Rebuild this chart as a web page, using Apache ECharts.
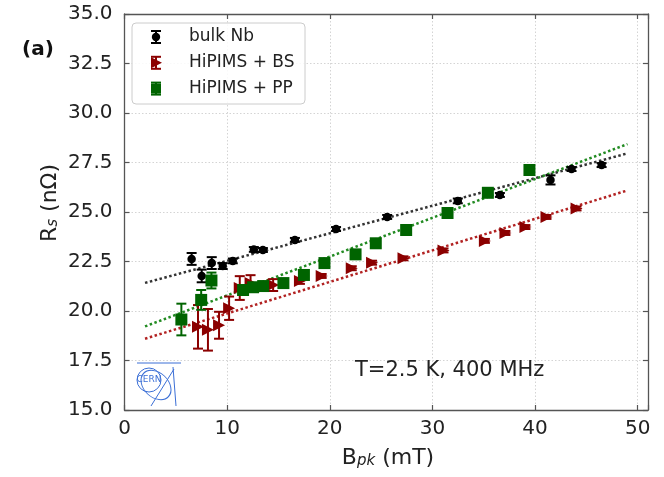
<!DOCTYPE html>
<html>
<head>
<meta charset="utf-8">
<script src="https://cdn.jsdelivr.net/npm/echarts@6.0.0/dist/echarts.min.js"></script>
<style>
  html, body { margin: 0; padding: 0; background: #fff; }
  #chart { width: 664px; height: 477px; }
</style>
</head>
<body>
<div id="chart"></div>
<script>
// Surface resistance vs peak magnetic field, T = 2.5 K, 400 MHz

// bulk Nb
const nbB   = [6.54, 7.52, 8.50, 9.57, 10.55, 12.60, 13.48, 16.60, 20.61, 25.59, 32.47, 36.57, 41.50, 43.55, 46.48];
const nbRs  = [22.63, 21.77, 22.42, 22.27, 22.53, 23.11, 23.08, 23.59, 24.14, 24.75, 25.56, 25.86, 26.62, 27.17, 27.37];
const nbErr = [0.30, 0.32, 0.30, 0.15, 0.12, 0.12, 0.10, 0.10, 0.10, 0.10, 0.12, 0.10, 0.23, 0.10, 0.10];

// HiPIMS + BS
const bsB   = [7.16, 8.13, 9.21, 10.19, 11.23, 12.28, 14.48, 17.09, 19.21, 22.14, 24.12, 27.18, 31.08, 35.11, 37.11, 39.06, 41.11, 44.04];
const bsRs  = [19.20, 19.05, 19.28, 20.14, 21.16, 21.41, 21.31, 21.52, 21.77, 22.16, 22.44, 22.66, 23.06, 23.54, 23.94, 24.24, 24.75, 25.18];
const bsErr = [1.10, 1.05, 0.68, 0.59, 0.60, 0.40, 0.30, 0.15, 0.10, 0.10, 0.10, 0.10, 0.10, 0.10, 0.10, 0.10, 0.10, 0.10];

// HiPIMS + PP
const ppB   = [5.54, 7.47, 8.47, 11.55, 12.53, 13.51, 15.48, 17.48, 19.48, 22.51, 24.48, 27.44, 31.47, 35.40, 39.45];
const ppRs  = [19.57, 20.56, 21.54, 21.06, 21.20, 21.26, 21.41, 21.82, 22.42, 22.86, 23.42, 24.09, 24.95, 25.97, 27.12];
const ppErr = [0.80, 0.50, 0.40, 0.10, 0.10, 0.10, 0.10, 0.10, 0.10, 0.10, 0.10, 0.10, 0.10, 0.10, 0.10];

// linear fits (end points)
const nbFitB = [2, 49], nbFitRs = [21.42, 27.96];
const bsFitB = [2, 49], bsFitRs = [18.60, 26.09];
const ppFitB = [2, 49], ppFitRs = [19.22, 28.43];

// axes
const xTicks = [0, 10, 20, 30, 40, 50];
const yTicks = [15.0, 17.5, 20.0, 22.5, 25.0, 27.5, 30.0, 32.5, 35.0];

const FONT = 'DejaVu Sans';
const C_NB = '#000000', C_BS = '#8b0000', C_PP = '#006400';
const FRAME = '#555555';

const zip3 = (a, b, c) => a.map((v, i) => [v, b[i], c[i]]);
const zip2 = (a, b) => a.map((v, i) => [v, b[i]]);

function errorBars(color) {
  return function (params, api) {
    const x = api.value(0), y = api.value(1), e = api.value(2);
    const top = api.coord([x, y + e]);
    const bot = api.coord([x, y - e]);
    const hw = 5;
    const style = { stroke: color, lineWidth: 2 };
    return {
      type: 'group',
      children: [
        { type: 'line', shape: { x1: top[0], y1: top[1], x2: bot[0], y2: bot[1] }, style },
        { type: 'line', shape: { x1: top[0] - hw, y1: top[1], x2: top[0] + hw, y2: top[1] }, style },
        { type: 'line', shape: { x1: bot[0] - hw, y1: bot[1], x2: bot[0] + hw, y2: bot[1] }, style }
      ]
    };
  };
}

const triRight = 'path://M0,0L10,5L0,10Z';

const axisCommon = {
  type: 'value',
  axisLine: { show: true, onZero: false, lineStyle: { color: FRAME, width: 1.3 } },
  axisTick: { show: true, inside: true, length: 5, lineStyle: { color: FRAME, width: 1.2 } }
};

// legend drawn as a small box with errorbar glyphs
const legendRows = [
  { name: 'bulk Nb', color: C_NB, marker: 'circle' },
  { name: 'HiPIMS + BS', color: C_BS, marker: 'tri' },
  { name: 'HiPIMS + PP', color: C_PP, marker: 'square' }
];
const legendX = 132, legendY = 23, rowGap = 25.8, iconX = 156, textX = 189;
const legendGraphics = [{
  type: 'rect', shape: { x: legendX, y: legendY, width: 173, height: 81, r: 4 },
  style: { fill: 'rgba(255,255,255,0.85)', stroke: '#cccccc', lineWidth: 1 }, z: 50
}];
legendRows.forEach((r, i) => {
  const cy = legendY + 14 + i * rowGap;
  const st = { stroke: r.color, lineWidth: 2 };
  legendGraphics.push(
    { type: 'line', shape: { x1: iconX, y1: cy - 6, x2: iconX, y2: cy + 6 }, style: st, z: 51 },
    { type: 'line', shape: { x1: iconX - 5, y1: cy - 6, x2: iconX + 5, y2: cy - 6 }, style: st, z: 51 },
    { type: 'line', shape: { x1: iconX - 5, y1: cy + 6, x2: iconX + 5, y2: cy + 6 }, style: st, z: 51 }
  );
  if (r.marker === 'circle') {
    legendGraphics.push({ type: 'circle', shape: { cx: iconX, cy: cy, r: 4.2 }, style: { fill: r.color }, z: 52 });
  } else if (r.marker === 'tri') {
    legendGraphics.push({ type: 'polygon', shape: { points: [[iconX - 5, cy - 5.5], [iconX + 6, cy], [iconX - 5, cy + 5.5]] }, style: { fill: r.color }, z: 52 });
  } else {
    legendGraphics.push({ type: 'rect', shape: { x: iconX - 5, y: cy - 5, width: 10, height: 10 }, style: { fill: r.color }, z: 52 });
  }
  legendGraphics.push({
    type: 'text', x: textX, y: cy, z: 52,
    style: { text: r.name, font: '17px "' + FONT + '"', fill: '#222', verticalAlign: 'middle', align: 'left' }
  });
});

// small laboratory logo, bottom-left corner of the plot
const LOGO = '#3b6fd6';
const logoGraphics = [
  { type: 'circle', shape: { cx: 149, cy: 380, r: 12 }, style: { fill: 'none', stroke: LOGO, lineWidth: 1 }, z: 5 },
  { type: 'circle', shape: { cx: 0, cy: 0, r: 17 }, x: 156, y: 385, scaleX: 1, scaleY: 0.72, rotation: -0.75,
    style: { fill: 'none', stroke: LOGO, lineWidth: 1, strokeNoScale: true }, z: 5 },
  { type: 'line', shape: { x1: 137, y1: 363, x2: 181, y2: 363 }, style: { stroke: LOGO, lineWidth: 1 }, z: 5 },
  { type: 'line', shape: { x1: 151, y1: 406, x2: 174, y2: 369 }, style: { stroke: LOGO, lineWidth: 1 }, z: 5 },
  { type: 'line', shape: { x1: 173, y1: 367, x2: 176, y2: 406 }, style: { stroke: LOGO, lineWidth: 1 }, z: 5 },
  { type: 'text', x: 149, y: 380, z: 5,
    style: { text: 'CERN', font: '9px "' + FONT + '"', fill: LOGO, align: 'center', verticalAlign: 'middle' } }
];

const option = {
  backgroundColor: '#ffffff',
  animation: false,
  grid: { left: 124.5, top: 14, right: 16, bottom: 67, containLabel: false },
  xAxis: [
    Object.assign({}, axisCommon, {
      position: 'bottom', min: 0, max: 51, interval: 10,
      axisLabel: {
        show: true, margin: 9, color: '#222', fontSize: 20, fontFamily: FONT,
        formatter: v => (xTicks.indexOf(v) >= 0 ? String(v) : '')
      },
      splitLine: { show: true, lineStyle: { color: '#d4d4d4', width: 1, type: [1.5, 2] } }
    }),
    Object.assign({}, axisCommon, {
      position: 'top', min: 0, max: 51, interval: 10,
      axisLabel: { show: false }, splitLine: { show: false }
    })
  ],
  yAxis: [
    Object.assign({}, axisCommon, {
      position: 'left', min: 15, max: 35, interval: 2.5,
      axisLabel: {
        show: true, margin: 12, color: '#222', fontSize: 20, fontFamily: FONT,
        formatter: v => {
          const i = yTicks.findIndex(t => Math.abs(t - v) < 1e-6);
          return i >= 0 ? yTicks[i].toFixed(1) : '';
        }
      },
      splitLine: { show: true, lineStyle: { color: '#d4d4d4', width: 1, type: [1.5, 2] } }
    }),
    Object.assign({}, axisCommon, {
      position: 'right', min: 15, max: 35, interval: 2.5,
      axisLabel: { show: false }, splitLine: { show: false }
    })
  ],
  graphic: [
    // axis titles
    {
      type: 'text', x: 388, y: 458, z: 10,
      style: {
        text: '{m|B}{s|pk}{m| (mT)}', align: 'center', verticalAlign: 'middle',
        rich: {
          m: { fontSize: 22, fontFamily: FONT, fill: '#222', lineHeight: 22 },
          s: { fontSize: 15, fontFamily: FONT, fontStyle: 'italic', fill: '#222', lineHeight: 10, verticalAlign: 'bottom' }
        }
      }
    },
    {
      type: 'text', x: 50, y: 203, rotation: Math.PI / 2, z: 10,
      style: {
        text: '{m|R}{s|s}{m| (nΩ)}', align: 'center', verticalAlign: 'middle',
        rich: {
          m: { fontSize: 22, fontFamily: FONT, fill: '#222', lineHeight: 22 },
          s: { fontSize: 15, fontFamily: FONT, fontStyle: 'italic', fill: '#222', lineHeight: 10, verticalAlign: 'bottom' }
        }
      }
    },
    {
      type: 'text', x: 38, y: 50, z: 10,
      style: { text: '(a)', font: 'bold 20px "' + FONT + '"', fill: '#111', align: 'center', verticalAlign: 'middle' }
    },
    {
      type: 'text', x: 355, y: 371, z: 10,
      style: { text: 'T=2.5 K, 400 MHz', font: '21px "' + FONT + '"', fill: '#222', align: 'left', verticalAlign: 'middle' }
    }
  ].concat(logoGraphics, legendGraphics),
  series: [
    // fit lines
    { type: 'line', data: zip2(nbFitB, nbFitRs), showSymbol: false, silent: true, z: 1,
      lineStyle: { color: '#333333', width: 2.5, type: [2.5, 2.5] } },
    { type: 'line', data: zip2(bsFitB, bsFitRs), showSymbol: false, silent: true, z: 1,
      lineStyle: { color: '#b22222', width: 2.5, type: [2.5, 2.5] } },
    { type: 'line', data: zip2(ppFitB, ppFitRs), showSymbol: false, silent: true, z: 1,
      lineStyle: { color: '#228b22', width: 2.5, type: [2.5, 2.5] } },

    // bulk Nb
    { type: 'custom', data: zip3(nbB, nbRs, nbErr), renderItem: errorBars(C_NB), encode: { x: 0, y: 1 }, z: 2, silent: true },
    { type: 'scatter', name: 'bulk Nb', data: zip2(nbB, nbRs), symbol: 'circle', symbolSize: 8.5,
      itemStyle: { color: C_NB, opacity: 1 }, z: 3 },

    // HiPIMS + BS
    { type: 'custom', data: zip3(bsB, bsRs, bsErr), renderItem: errorBars(C_BS), encode: { x: 0, y: 1 }, z: 4, silent: true },
    { type: 'scatter', name: 'HiPIMS + BS', data: zip2(bsB, bsRs), symbol: triRight, symbolSize: [12, 12],
      itemStyle: { color: C_BS, opacity: 1 }, z: 5 },

    // HiPIMS + PP
    { type: 'custom', data: zip3(ppB, ppRs, ppErr), renderItem: errorBars(C_PP), encode: { x: 0, y: 1 }, z: 6, silent: true },
    { type: 'scatter', name: 'HiPIMS + PP', data: zip2(ppB, ppRs), symbol: 'rect', symbolSize: 12,
      itemStyle: { color: C_PP, opacity: 1 }, z: 7 }
  ]
};

const chart = echarts.init(document.getElementById('chart'), null, { renderer: 'canvas' });
chart.setOption(option);
</script>
</body>
</html>
